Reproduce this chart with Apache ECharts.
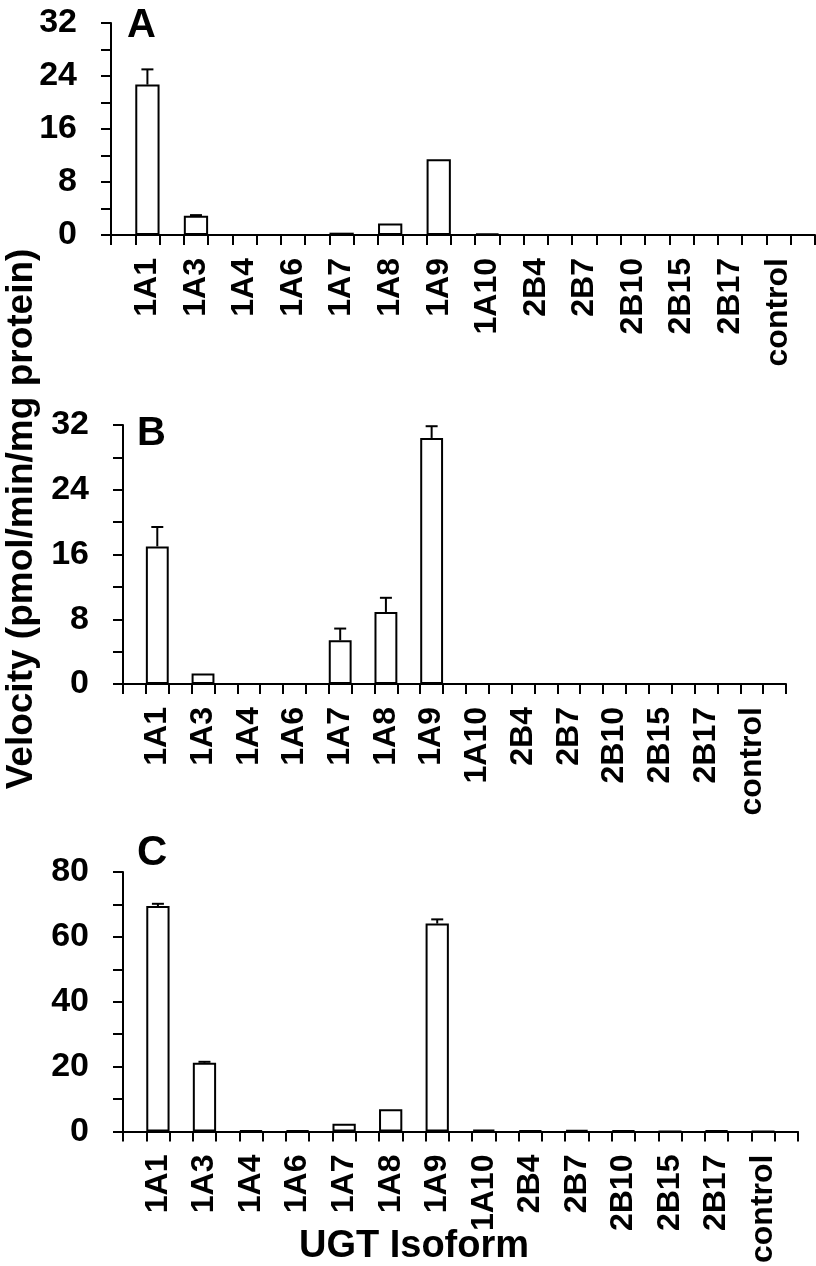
<!DOCTYPE html>
<html>
<head>
<meta charset="utf-8">
<script src="https://cdn.jsdelivr.net/npm/echarts@6/dist/echarts.min.js"></script>
<style>
    html, body { margin: 0; padding: 0; background: #fff; }
    #chart { width: 816px; height: 1266px; }
</style>
</head>
<body>
<div id="chart"></div>
<script>
// UGT isoforms on the x axis (same for all three panels)
var isoforms = ['1A1', '1A3', '1A4', '1A6', '1A7', '1A8', '1A9', '1A10', '2B4', '2B7', '2B10', '2B15', '2B17', 'control'];

// panel A
var velA = [22.7, 2.9, 0, 0, 0.35, 1.75, 11.45, 0.25, 0, 0, 0, 0, 0, 0];
var errA = [2.3, 0.1, 0, 0, 0, 0, 0, 0, 0, 0, 0, 0, 0, 0];
// panel B
var velB = [17.0, 1.3, 0, 0, 5.4, 8.9, 30.4, 0, 0, 0, 0, 0, 0, 0];
var errB = [2.4, 0, 0, 0, 1.45, 1.75, 1.45, 0, 0, 0, 0, 0, 0, 0];
// panel C
var velC = [69.5, 21.2, 0.3, 0.3, 2.4, 6.9, 64.1, 0.6, 0.3, 0.5, 0.3, 0.1, 0.3, 0.1];
var errC = [0.7, 0.3, 0, 0, 0, 0, 1.3, 0, 0, 0, 0, 0, 0, 0];

var yTicksA = [0, 32, 8];
var yTicksB = [0, 32, 8];
var yTicksC = [0, 80, 20];

var FONT = '"Liberation Sans", Arial, sans-serif';

// every isoform sits in an odd slot, with an empty slot before it and one at the end
var NSLOT = isoforms.length * 2 + 1;
function slotLabels() {
    var out = [];
    for (var i = 0; i < NSLOT; i++) out.push(i % 2 == 1 ? isoforms[(i - 1) / 2] : '');
    return out;
}
function slotValues(arr) {
    var out = [];
    for (var i = 0; i < NSLOT; i++) out.push(i % 2 == 1 ? arr[(i - 1) / 2] : '-');
    return out;
}
function errData(vals, errs) {
    var out = [];
    for (var k = 0; k < vals.length; k++) {
        if (errs[k] > 0) out.push([2 * k + 1, vals[k], errs[k]]);
    }
    return out;
}

function renderErr(params, api) {
    var x = api.value(0);
    var base = api.coord([x, api.value(1)]);
    var top = api.coord([x, api.value(1) + api.value(2)]);
    var style = {stroke: '#000', lineWidth: 2};
    return {
        type: 'group',
        children: [
            {type: 'line', shape: {x1: base[0], y1: base[1], x2: top[0], y2: top[1]}, style: style},
            {type: 'line', shape: {x1: top[0] - 6, y1: top[1], x2: top[0] + 6, y2: top[1]}, style: style}
        ]
    };
}

var grids = [
    {left: 111, top: 23, width: 704, height: 212},
    {left: 123, top: 425, width: 663, height: 259},
    {left: 123, top: 872, width: 675, height: 260}
];

var yTicks = [yTicksA, yTicksB, yTicksC];
var vals = [velA, velB, velC];
var errs = [errA, errB, errC];

var xAxes = [], yAxes = [], series = [];
for (var g = 0; g < 3; g++) {
    xAxes.push({
        type: 'category',
        gridIndex: g,
        data: slotLabels(),
        boundaryGap: true,
        axisLine: {lineStyle: {color: '#000', width: 2}},
        axisTick: {show: true, interval: 0, length: 10, lineStyle: {color: '#000', width: 2}},
        axisLabel: {
            interval: 0, rotate: 90, margin: 23,
            color: '#000', fontSize: 32, fontWeight: 'bold', fontFamily: FONT
        },
        splitLine: {show: false}
    });
    yAxes.push({
        type: 'value',
        gridIndex: g,
        min: yTicks[g][0], max: yTicks[g][1], interval: yTicks[g][2],
        axisLine: {show: true, lineStyle: {color: '#000', width: 2}},
        axisTick: {show: true, length: 10, lineStyle: {color: '#000', width: 2}},
        minorTick: {show: true, splitNumber: 2, length: 10, lineStyle: {color: '#000', width: 2}},
        axisLabel: {margin: 34, color: '#000', fontSize: 34, fontWeight: 'bold', fontFamily: FONT},
        splitLine: {show: false}
    });
    series.push({
        type: 'bar',
        xAxisIndex: g, yAxisIndex: g,
        data: slotValues(vals[g]),
        barWidth: '100%',
        itemStyle: {color: '#fff', borderColor: '#000', borderWidth: 2},
        silent: true
    });
    series.push({
        type: 'custom',
        xAxisIndex: g, yAxisIndex: g,
        data: errData(vals[g], errs[g]),
        renderItem: renderErr,
        z: 5,
        silent: true
    });
}

var chart = echarts.init(document.getElementById('chart'));
chart.setOption({
    animation: false,
    backgroundColor: '#fff',
    grid: grids,
    xAxis: xAxes,
    yAxis: yAxes,
    series: series,
    graphic: [
        {type: 'text', left: 127, top: 6, style: {text: 'A', font: 'bold 40px ' + FONT, fill: '#000'}},
        {type: 'text', left: 137, top: 414, style: {text: 'B', font: 'bold 40px ' + FONT, fill: '#000'}},
        {type: 'text', left: 137, top: 832, style: {text: 'C', font: 'bold 42px ' + FONT, fill: '#000'}},
        {type: 'text', x: 22, y: 519, rotation: Math.PI / 2,
            style: {text: 'Velocity (pmol/min/mg protein)', font: 'bold 37px ' + FONT, fill: '#000',
                textAlign: 'center', textVerticalAlign: 'middle'}},
        {type: 'text', x: 414, y: 1247,
            style: {text: 'UGT Isoform', font: 'bold 38px ' + FONT, fill: '#000',
                textAlign: 'center', textVerticalAlign: 'middle'}}
    ]
});
</script>
</body>
</html>
